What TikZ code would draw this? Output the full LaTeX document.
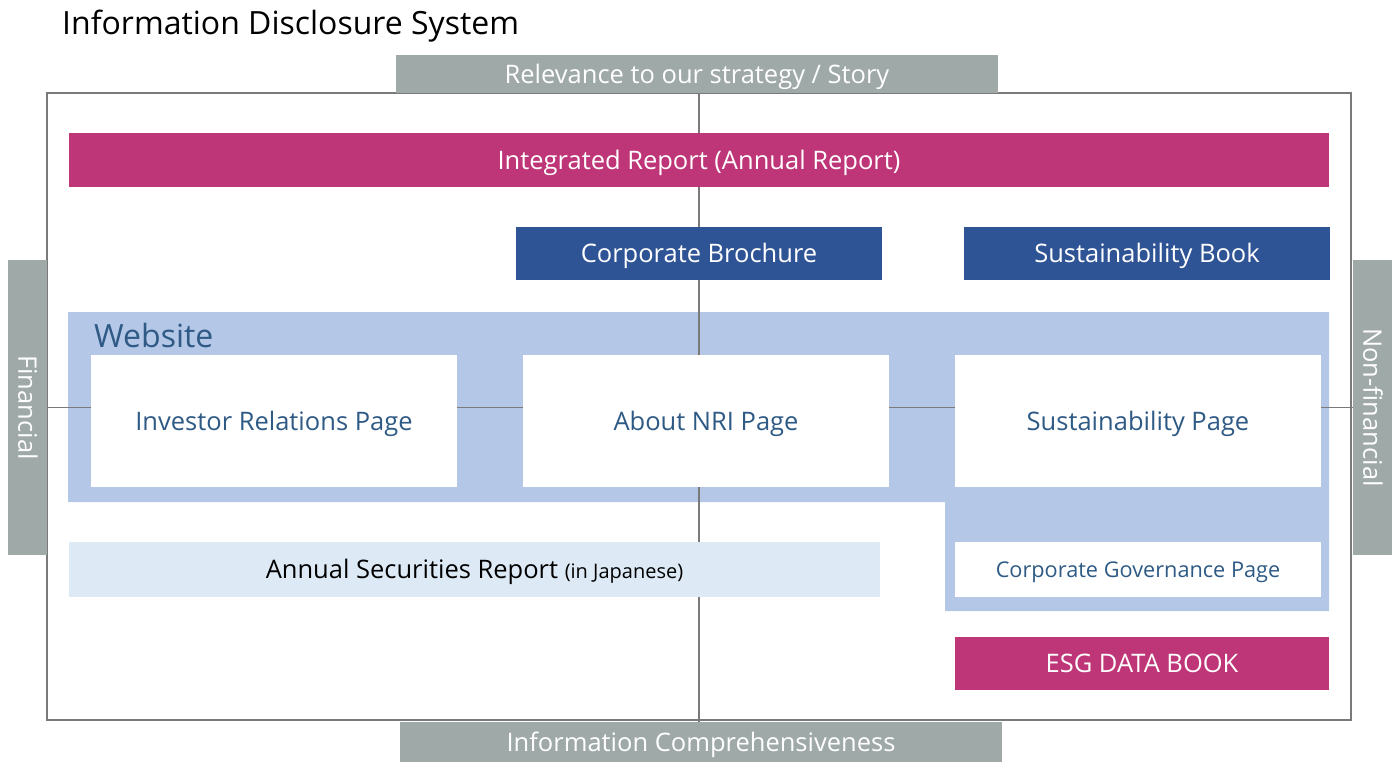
\documentclass[tikz,border=0pt]{standalone}
\usepackage{fontspec}
\setmainfont{Open Sans}
\definecolor{magentaR}{HTML}{BE3578}
\definecolor{darkB}{HTML}{2F5496}
\definecolor{webB}{HTML}{B4C7E7}
\definecolor{paleB}{HTML}{DDEAF6}
\definecolor{barG}{HTML}{9FA9A8}
\definecolor{pageT}{HTML}{2E5A85}
\definecolor{lineG}{HTML}{7A7A7A}
\tikzset{
  fillbox/.style={draw=none, inner sep=0pt, outer sep=0pt, align=center, text height=18.2pt, text depth=0pt, font=\fontsize{25.5}{30}\selectfont},
  magbox/.style={fillbox, fill=magentaR, text=white},
  bluebox/.style={fillbox, fill=darkB, text=white},
  pagebox/.style={fillbox, fill=white, text=pageT},
  graybar/.style={fillbox, fill=barG, text=white},
  axis/.style={draw=lineG, line width=1.5pt},
}
\begin{document}
\begin{tikzpicture}[x=1pt,y=-1pt]
\useasboundingbox (0,0) rectangle (1392,764);
% title
\node[anchor=base west, inner sep=0pt, font=\fontsize{32}{38}\selectfont] (title) at (62,34) {Information Disclosure System};
% outer frame
\draw[draw=lineG, line width=2pt] (47,93) rectangle (1351,720);
% side bars
\node[graybar, minimum width=602pt, minimum height=38pt] (top) at (697,74) {Relevance to our strategy / Story};
\node[graybar, minimum width=602pt, minimum height=40pt] (bottom) at (701,742) {Information Comprehensiveness};
\node[graybar, minimum width=295pt, minimum height=39pt, rotate=-90] (left) at (27.5,407.5) {Financial};
\node[graybar, minimum width=295pt, minimum height=39pt, rotate=-90] (right) at (1372.5,407.5) {Non-financial};
% website region
\fill[webB] (68,312) -- (1329,312) -- (1329,611) -- (945,611) -- (945,502) -- (68,502) -- cycle;
\node[anchor=base west, inner sep=0pt, text=pageT, font=\fontsize{32}{38}\selectfont] (website) at (94,347) {Website};
% reference node for the vertical axis
\coordinate (axisx) at (699,160);
% axes
\draw[axis] (axisx |- top.south) -- (axisx |- bottom.north);
\draw[axis] (left.north) -- (right.south);
% boxes
\node[magbox, minimum width=1260pt, minimum height=54pt] (ir) at (axisx) {Integrated Report (Annual Report)};
\node[bluebox, minimum width=366pt, minimum height=53pt] (brochure) at (699,253.5) {Corporate Brochure};
\node[bluebox, minimum width=366pt, minimum height=53pt] (sbook) at (1147,253.5) {Sustainability Book};
\node[pagebox, minimum width=366pt, minimum height=132pt] (irpage) at (274,421) {Investor Relations Page};
\node[pagebox, minimum width=366pt, minimum height=132pt] (nri) at (706,421) {About NRI Page};
\node[pagebox, minimum width=366pt, minimum height=132pt] (spage) at (1138,421) {Sustainability Page};
\node[fillbox, fill=paleB, text=black, minimum width=811pt, minimum height=55pt] (asr) at (474.5,569.5) {Annual Securities Report {\fontsize{20}{24}\selectfont (in Japanese)}};
\node[pagebox, minimum width=366pt, minimum height=55pt, font=\fontsize{21.7}{26}\selectfont, text height=15.5pt] (cg) at (1138,569.5) {Corporate Governance Page};
\node[magbox, minimum width=374pt, minimum height=53pt] (esg) at (1142,663.5) {ESG DATA BOOK};
\end{tikzpicture}
\end{document}
